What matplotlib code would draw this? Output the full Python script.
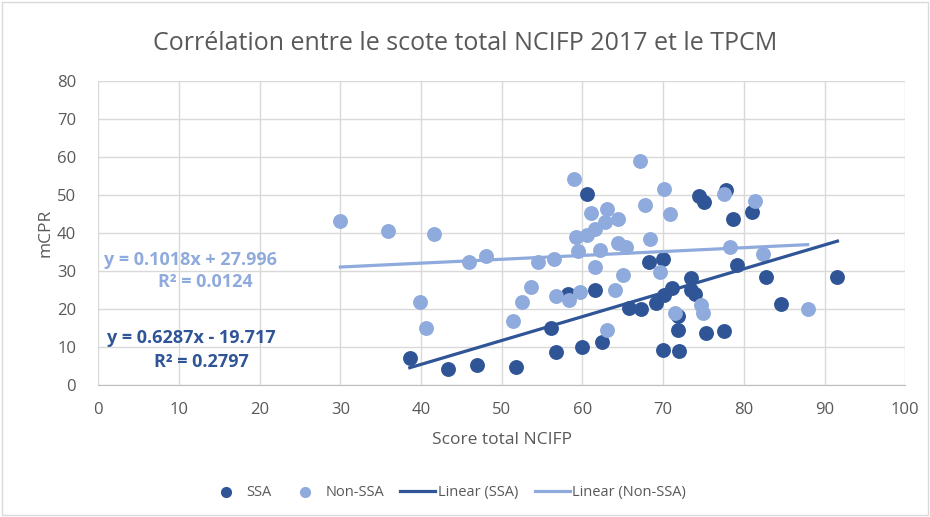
import matplotlib
matplotlib.use("Agg")
import matplotlib.pyplot as plt
import numpy as np
from matplotlib.patches import Rectangle

plt.rcParams['font.family'] = ['Open Sans', 'DejaVu Sans']

# Data
ssa_x = [38.6, 43.3, 46.9, 51.8, 56.1, 56.7, 58.2, 60.0, 60.5, 61.6, 62.4, 65.8,
         67.2, 68.3, 69.1, 70.0, 70.0, 70.1, 71.1, 71.8, 71.8, 71.9, 73.4, 73.5,
         74.0, 74.4, 75.1, 75.3, 77.5, 77.8, 78.7, 79.1, 81.0, 82.7, 84.6, 91.6]
ssa_y = [7.2, 4.3, 5.3, 4.7, 14.9, 8.8, 24.0, 9.9, 50.2, 24.9, 11.3, 20.2,
         20.1, 32.4, 21.6, 33.2, 9.1, 23.7, 25.5, 18.2, 14.5, 8.9, 28.1, 25.0,
         24.0, 49.8, 48.1, 13.6, 14.3, 51.3, 43.8, 31.6, 45.4, 28.4, 21.2, 28.3]

nonssa_x = [30.0, 35.9, 41.6, 39.9, 40.6, 45.9, 48.0, 51.4, 52.5, 53.6, 54.5, 56.5,
            56.7, 58.3, 59.0, 59.2, 59.5, 59.7, 60.6, 61.0, 61.6, 61.6, 62.2, 62.8,
            63.0, 63.0, 64.4, 64.0, 64.4, 65.0, 65.4, 67.1, 67.7, 68.4, 69.6, 70.1,
            70.9, 71.5, 74.7, 74.9, 77.5, 78.3, 81.4, 82.4, 87.9]
nonssa_y = [43.2, 40.6, 39.7, 21.9, 14.9, 32.4, 34.0, 16.8, 21.8, 25.8, 32.4, 33.2,
            23.5, 22.4, 54.1, 38.9, 35.3, 24.4, 39.6, 45.3, 41.1, 31.0, 35.5, 43.0,
            46.2, 14.4, 37.4, 24.9, 43.6, 28.9, 36.3, 58.9, 47.3, 38.4, 29.8, 51.6,
            45.1, 18.9, 21.1, 19.0, 50.3, 36.2, 48.4, 34.5, 19.9]

ssa_slope, ssa_intercept, ssa_r2 = 0.6287, -19.717, 0.2797
non_slope, non_intercept, non_r2 = 0.1018, 27.996, 0.0124

title = "Corrélation entre le scote total NCIFP 2017 et le TPCM"
xlabel = "Score total NCIFP"
ylabel = "mCPR"
x_ticks = list(range(0, 101, 10))
y_ticks = list(range(0, 81, 10))

dark = "#2F5597"
light = "#8FAADC"
grey = "#595959"

fig = plt.figure(figsize=(9.30, 5.17), dpi=100)
ax = fig.add_axes([0.1057, 0.2553, 0.8677, 0.5880])

ax.scatter(ssa_x, ssa_y, s=115, color=dark, zorder=3, label="SSA", linewidths=0)
ax.scatter(nonssa_x, nonssa_y, s=115, color=light, zorder=3, label="Non-SSA", linewidths=0)

xs = np.array([min(ssa_x), max(ssa_x)])
ax.plot(xs, ssa_slope * xs + ssa_intercept, color=dark, lw=2.3, zorder=4, label="Linear (SSA)")
xn = np.array([min(nonssa_x), max(nonssa_x)])
ax.plot(xn, non_slope * xn + non_intercept, color=light, lw=2.3, zorder=4, label="Linear (Non-SSA)")

ax.set_xlim(0, 100)
ax.set_ylim(0, 80)
ax.set_xticks(x_ticks)
ax.set_yticks(y_ticks)
ax.grid(True, color="#D9D9D9", lw=1)
ax.set_axisbelow(True)
for s in ["top", "right", "left"]:
    ax.spines[s].set_visible(False)
ax.spines["bottom"].set_color("#BFBFBF")
ax.tick_params(axis="both", length=0, labelsize=12, colors=grey)
ax.tick_params(axis="x", pad=12)
ax.tick_params(axis="y", pad=16)

ax.set_xlabel(xlabel, fontsize=12.5, color=grey, labelpad=10)
ax.set_ylabel(ylabel, fontsize=12.5, color=grey)
ax.yaxis.set_label_coords(-0.056, 0.5)
fig.suptitle(title, fontsize=18, color=grey, y=0.94)

fs = 13
ax.text(0.114, 0.412, f"y = {non_slope}x + {non_intercept}", transform=ax.transAxes,
        fontsize=fs, fontweight="bold", color=light, ha="center", va="center")
ax.text(0.132, 0.338, f"R² = {non_r2}", transform=ax.transAxes,
        fontsize=fs, fontweight="bold", color=light, ha="center", va="center")
ax.text(0.115, 0.153, f"y = {ssa_slope}x - {abs(ssa_intercept)}", transform=ax.transAxes,
        fontsize=fs, fontweight="bold", color=dark, ha="center", va="center")
ax.text(0.128, 0.077, f"R² = {ssa_r2}", transform=ax.transAxes,
        fontsize=fs, fontweight="bold", color=dark, ha="center", va="center")

leg = fig.legend(loc="center", bbox_to_anchor=(0.481, 0.048), ncol=4, frameon=False,
                 fontsize=10.5, labelcolor=grey, handlelength=2.4, columnspacing=1.1,
                 handletextpad=0.2, markerscale=0.75)

fig.patches.append(Rectangle((0.002, 0.003), 0.996, 0.994, transform=fig.transFigure,
                             fill=False, edgecolor="#D9D9D9", lw=1))

fig.savefig("out.png", dpi=100)
